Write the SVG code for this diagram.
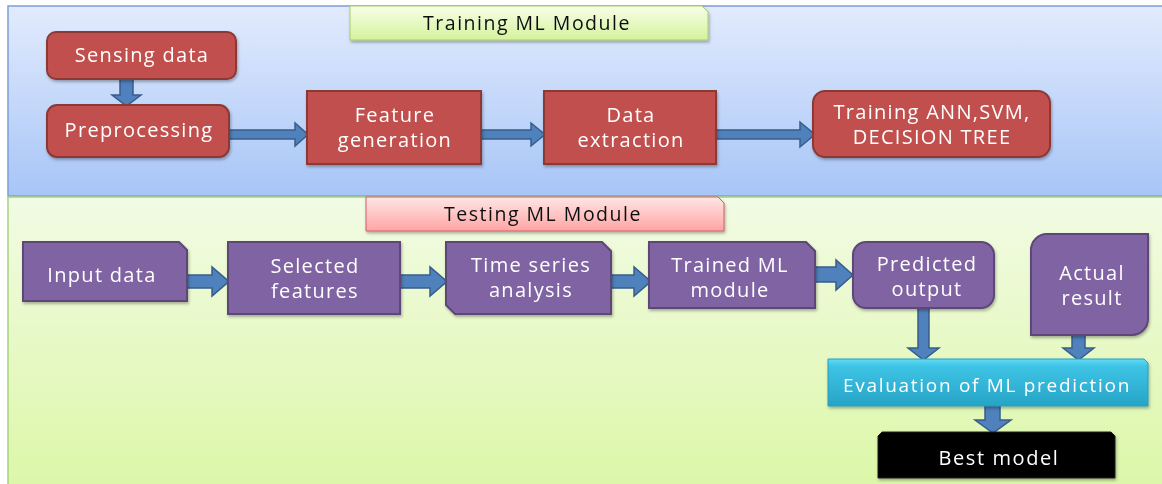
<svg xmlns="http://www.w3.org/2000/svg" width="1162" height="484" viewBox="0 0 1162 484">
<defs>
<linearGradient id="gBlue" x1="0" y1="0" x2="0" y2="1"><stop offset="0" stop-color="#e2ebfd"/><stop offset="1" stop-color="#a7c5f7"/></linearGradient>
<linearGradient id="gGreen" x1="0" y1="0" x2="0" y2="1"><stop offset="0" stop-color="#f2fbe4"/><stop offset="1" stop-color="#dcf7a8"/></linearGradient>
<linearGradient id="gLabelG" x1="0" y1="0" x2="0" y2="1"><stop offset="0" stop-color="#f8ffe8"/><stop offset="1" stop-color="#d4f29c"/></linearGradient>
<linearGradient id="gLabelR" x1="0" y1="0" x2="0" y2="1"><stop offset="0" stop-color="#ffe6e6"/><stop offset="1" stop-color="#ffa4a4"/></linearGradient>
<linearGradient id="gCyan" x1="0" y1="0" x2="0" y2="1"><stop offset="0" stop-color="#64dcf4"/><stop offset="0.15" stop-color="#3ec4e6"/><stop offset="1" stop-color="#26a4c6"/></linearGradient>
<filter id="sh" x="-10%" y="-10%" width="130%" height="140%"><feDropShadow dx="1" dy="2" stdDeviation="1.5" flood-color="#000" flood-opacity="0.3"/></filter>
</defs>
<style>
.red{fill:#c0504d;stroke:#8c3836;stroke-width:2}
.pur{fill:#8064a2;stroke:#5c4776;stroke-width:2}
.arr{fill:#4f81bd;stroke:#385d8a;stroke-width:1.5}
.t{font-family:"Open Sans","Liberation Sans",sans-serif;font-size:20px;fill:#fff;text-anchor:middle;letter-spacing:1.3px}
.lb{font-family:"Open Sans","Liberation Sans",sans-serif;font-size:19.5px;fill:#111;text-anchor:middle;letter-spacing:1.5px}
.ev{font-size:19px;letter-spacing:1.7px}
</style>
<g id="panel-training">
<rect x="8" y="6" width="1160" height="190" fill="url(#gBlue)" stroke="#7ba0d8" stroke-width="1.5"/>
</g>
<g id="panel-testing">
<rect x="8" y="197" width="1160" height="292" fill="url(#gGreen)" stroke="#a8d080" stroke-width="1.5"/>
</g>
<g id="label-training" filter="url(#sh)">
<path d="M350,6 H702 L708,12 V40 H350 Z" fill="url(#gLabelG)" stroke="#a8cc70" stroke-width="1"/>
<text class="lb" x="527" y="30">Training ML Module</text>
</g>
<g id="label-testing" filter="url(#sh)">
<path d="M366,197 H718 L724,203 V231 H366 Z" fill="url(#gLabelR)" stroke="#d06060" stroke-width="1"/>
<text class="lb" x="543" y="221">Testing ML Module</text>
</g>
<g id="connectors">
<path class="arr" d="M120,79 V95 H112 L126.5,106 L141,95 H133 V79 Z"/>
<path class="arr" d="M229,130 H295 V123 L308,134.5 L295,146 V139 H229 Z"/>
<path class="arr" d="M481,130 H531 V123 L545,134.5 L531,146 V139 H481 Z"/>
<path class="arr" d="M716,130 H800 V122 L815,134.5 L800,147 V139 H716 Z"/>
<path class="arr" d="M187,275 H212 V267 L229,281.5 L212,296 V288 H187 Z"/>
<path class="arr" d="M400,275 H430 V267 L447,281.5 L430,296 V288 H400 Z"/>
<path class="arr" d="M611,275 H634 V267 L651,281.5 L634,296 V288 H611 Z"/>
<path class="arr" d="M815,267 H836 V260 L853,275 L836,290 V282 H815 Z"/>
<path class="arr" d="M918,308 V348 H908 L923.5,360 L939,348 H929 V308 Z"/>
<path class="arr" d="M1072,335 V348 H1063 L1078.5,360 L1094,348 H1085 V335 Z"/>
<path class="arr" d="M985,406 V420 H975 L993,433 L1011,420 H1000 V406 Z"/>
</g>
<g id="sensing-data" filter="url(#sh)">
<rect class="red" x="47" y="32" width="189" height="47" rx="9"/>
<text class="t" x="142" y="62">Sensing data</text>
</g>
<g id="preprocessing" filter="url(#sh)">
<rect class="red" x="47" y="105" width="182" height="52" rx="10"/>
<text class="t" x="139" y="137">Preprocessing</text>
</g>
<g id="feature-generation" filter="url(#sh)">
<rect class="red" x="307" y="91" width="174" height="73"/>
<text class="t" x="395" y="122">Feature</text>
<text class="t" x="395" y="147">generation</text>
</g>
<g id="data-extraction" filter="url(#sh)">
<rect class="red" x="544" y="91" width="172" height="73"/>
<text class="t" x="631" y="122">Data</text>
<text class="t" x="631" y="147">extraction</text>
</g>
<g id="training-models" filter="url(#sh)">
<rect class="red" x="813" y="91" width="237" height="66" rx="12"/>
<text class="t" x="932" y="119">Training ANN,SVM,</text>
<text class="t" x="932" y="144">DECISION TREE</text>
</g>
<g id="input-data" filter="url(#sh)">
<path class="pur" d="M23,242 H179 L187,250 V301 H23 Z"/>
<text class="t" x="102" y="282">Input data</text>
</g>
<g id="selected-features" filter="url(#sh)">
<rect class="pur" x="228" y="242" width="172" height="72"/>
<text class="t" x="315" y="273">Selected</text>
<text class="t" x="315" y="298">features</text>
</g>
<g id="time-series" filter="url(#sh)">
<path class="pur" d="M446,242 H602 L611,251 V314 H455 L446,305 Z"/>
<text class="t" x="531" y="272">Time series</text>
<text class="t" x="531" y="297">analysis</text>
</g>
<g id="trained-ml" filter="url(#sh)">
<path class="pur" d="M649,242 H806 L815,251 V308 H649 Z"/>
<text class="t" x="730" y="272">Trained ML</text>
<text class="t" x="730" y="297">module</text>
</g>
<g id="predicted-output" filter="url(#sh)">
<rect class="pur" x="853" y="242" width="141" height="66" rx="13"/>
<text class="t" x="927" y="271">Predicted</text>
<text class="t" x="927" y="296">output</text>
</g>
<g id="actual-result" filter="url(#sh)">
<path class="pur" d="M1047,234 H1148 V319 A16,16 0 0 1 1132,335 H1031 V250 A16,16 0 0 1 1047,234 Z"/>
<text class="t" x="1092" y="280">Actual</text>
<text class="t" x="1092" y="305">result</text>
</g>
<g id="evaluation" filter="url(#sh)">
<path d="M828,359 H1144 L1148,363 V406 H828 Z" fill="url(#gCyan)" stroke="#2a9cbc" stroke-width="1"/>
<text class="t ev" x="987" y="392">Evaluation of ML prediction</text>
</g>
<g id="best-model" filter="url(#sh)">
<path d="M882,432 H1111 L1115,436 V478 H878 V436 Z" fill="#000" stroke="#222" stroke-width="1"/>
<text class="t" x="999" y="465" style="letter-spacing:1.6px">Best model</text>
</g>
</svg>
